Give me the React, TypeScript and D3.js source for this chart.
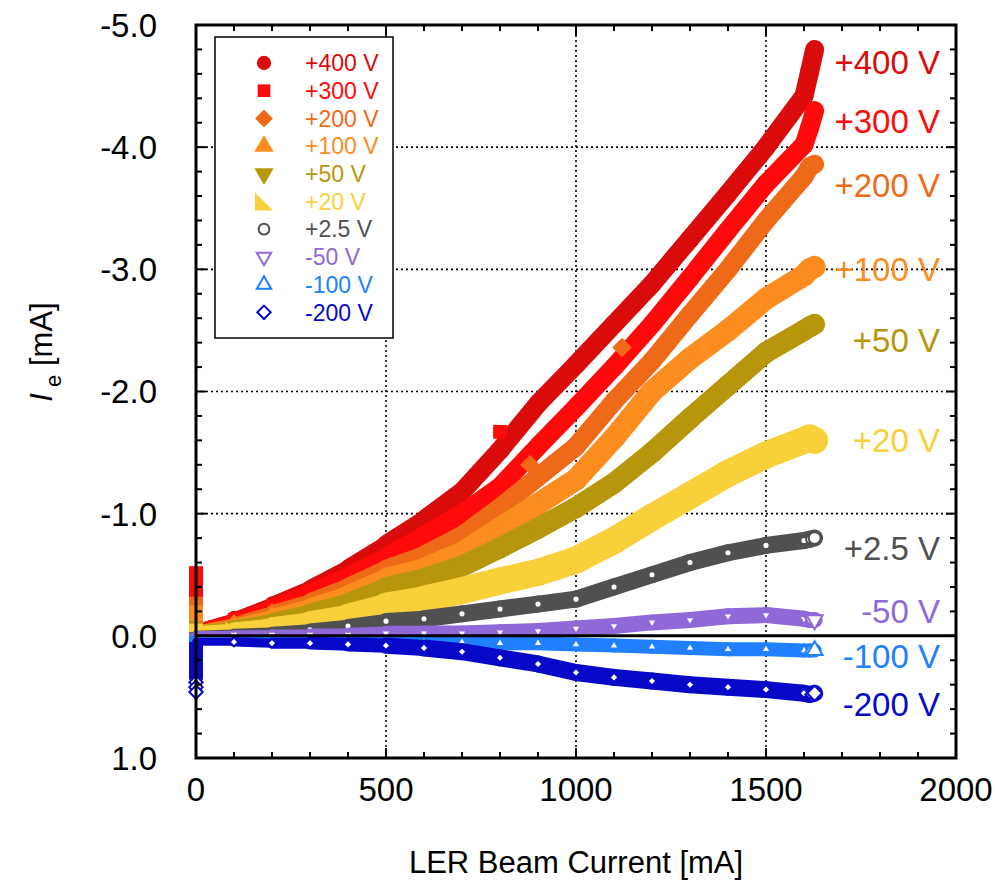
import React from "react";
import * as d3 from "d3";

// ---------- data ----------
const beamCurrent = [0, 100, 200, 300, 400, 500, 600, 700, 800, 900, 1000, 1100, 1200, 1300, 1400, 1500, 1600];
const tailCurrent = [1615, 1628];

const v400 = [-0.06, -0.15, -0.27, -0.40, -0.56, -0.75, -0.95, -1.18, -1.52, -1.90, -2.22, -2.55, -2.88, -3.25, -3.62, -4.00, -4.42];
const v300 = [-0.06, -0.14, -0.25, -0.37, -0.50, -0.65, -0.82, -1.00, -1.22, -1.55, -1.87, -2.20, -2.55, -2.93, -3.32, -3.70, -4.02];
const v200 = [-0.05, -0.11, -0.20, -0.29, -0.41, -0.55, -0.66, -0.82, -1.05, -1.30, -1.55, -1.92, -2.25, -2.63, -3.00, -3.40, -3.76];
const v100 = [-0.04, -0.09, -0.16, -0.24, -0.34, -0.47, -0.55, -0.68, -0.88, -1.08, -1.28, -1.62, -2.00, -2.27, -2.50, -2.76, -2.95];
const v50 = [-0.04, -0.08, -0.13, -0.20, -0.28, -0.40, -0.47, -0.57, -0.72, -0.88, -1.05, -1.25, -1.50, -1.78, -2.05, -2.32, -2.50];
const v20 = [-0.03, -0.05, -0.08, -0.12, -0.17, -0.25, -0.30, -0.37, -0.45, -0.52, -0.62, -0.78, -0.97, -1.15, -1.33, -1.48, -1.60];
const v2p5 = [-0.01, -0.02, -0.03, -0.05, -0.08, -0.12, -0.14, -0.18, -0.22, -0.26, -0.30, -0.40, -0.50, -0.60, -0.68, -0.74, -0.78];
const vm50 = [-0.01, -0.01, -0.01, -0.01, -0.01, -0.02, -0.02, -0.02, -0.03, -0.04, -0.06, -0.08, -0.11, -0.13, -0.16, -0.17, -0.14];
const vm100 = [0.03, 0.04, 0.04, 0.04, 0.04, 0.05, 0.05, 0.05, 0.06, 0.06, 0.07, 0.08, 0.09, 0.10, 0.11, 0.11, 0.12];
const vm200 = [0.05, 0.05, 0.06, 0.06, 0.07, 0.08, 0.10, 0.13, 0.18, 0.23, 0.30, 0.34, 0.37, 0.40, 0.42, 0.44, 0.47];

const t400 = [-4.62, -4.8];
const t300 = [-4.16, -4.3];
const t200 = [-3.84, -3.86];
const t100 = [-3.0, -3.02];
const t50 = [-2.53, -2.55];
const t20 = [-1.62, -1.6];
const t2p5 = [-0.79, -0.8];
const tm50 = [-0.13, -0.13];
const tm100 = [0.12, 0.12];
const tm200 = [0.48, 0.47];

// values at I = 0 (vertical spread at injection start): [top, bottom]
const spike400 = [-0.12, -0.05];
const spike300 = [-0.57, -0.08];
const spike200 = [-0.32, -0.1];
const spike100 = [-0.25, -0.05];
const spike50 = [-0.12, 0.0];
const spike20 = [-0.1, 0.0];
const spike2p5 = [-0.03, 0.0];
const spikem50 = [-0.02, 0.02];
const spikem100 = [0.0, 0.22];
const spikem200 = [0.05, 0.36];
const spikeDiamondsM200 = [0.38, 0.42, 0.46];

// isolated points
const outlierSeries = ["+300 V", "+200 V", "+200 V"];
const outlierCurrent = [800, 879, 1121];
const outlierValue = [-1.67, -1.40, -2.36];

const seriesNames = ["+400 V", "+300 V", "+200 V", "+100 V", "+50 V", "+20 V", "+2.5 V", "-50 V", "-100 V", "-200 V"];
const seriesValues = [v400, v300, v200, v100, v50, v20, v2p5, vm50, vm100, vm200];
const seriesTails = [t400, t300, t200, t100, t50, t20, t2p5, tm50, tm100, tm200];
const seriesSpikes = [spike400, spike300, spike200, spike100, spike50, spike20, spike2p5, spikem50, spikem100, spikem200];

const xTicksMajor = [0, 500, 1000, 1500, 2000];
const yTicksMajor = [-5, -4, -3, -2, -1, 0, 1];
const yTickLabels = ["-5.0", "-4.0", "-3.0", "-2.0", "-1.0", "0.0", "1.0"];

// right-side labels: value positions
const rightLabelValue = [-4.7, -4.21, -3.69, -3.0, -2.42, -1.6, -0.72, -0.2, 0.17, 0.56];

// ---------- styles ----------
const colors = ["#d90b0b", "#ff0a0a", "#ee6a18", "#fb8c1e", "#b8960b", "#f8d03a", "#505050", "#9068d8", "#2080ff", "#0808c8"];
const bandWidth = [19, 19, 19, 22, 21, 27, 17, 16, 14, 17];
const shapes = ["circle", "square", "diamond", "triUp", "triDown", "rightTri", "oCircle", "oTriDown", "oTriUp", "oDiamond"];

const FONT = "'Liberation Sans', Arial, sans-serif";

function markerPath(shape: string, size: number): string {
  const s = size;
  switch (shape) {
    case "circle":
    case "oCircle":
      return d3.symbol(d3.symbolCircle, s)()!;
    case "square":
      return d3.symbol(d3.symbolSquare, s)()!;
    case "diamond":
    case "oDiamond": {
      const r = Math.sqrt(s / 2);
      return `M0,${-r}L${r},0L0,${r}L${-r},0Z`;
    }
    case "triUp":
    case "oTriUp":
    case "triDown":
    case "oTriDown":
      return d3.symbol(d3.symbolTriangle, s)()!;
    case "rightTri": {
      const h = Math.sqrt(s * 2) / 2;
      return `M${-h},${-h}L${h},${h}L${-h},${h}Z`;
    }
  }
  return "";
}
const isOpen = (shape: string) => shape.startsWith("o");
const rot = (shape: string) => (shape === "triDown" || shape === "oTriDown" ? 180 : 0);

export default function App() {
  const W = 995, H = 885;
  const x = d3.scaleLinear().domain([0, 2000]).range([196, 956]);
  const y = d3.scaleLinear().domain([-5, 1]).range([25, 758]);
  const [x0, x1] = x.range();
  const [y0, y1] = y.range();

  const xMinor = d3.range(0, 2001, 100);
  const yMinor = d3.range(-5, 1.0001, 0.2);

  const widthAt = (base: number, I: number) => base * Math.min(1, 0.4 + (0.6 * I) / 600);

  const bands = seriesNames.map((name, si) => {
    const pts: [number, number][] = beamCurrent.map((I, i) => [I, seriesValues[si][i]]);
    tailCurrent.forEach((I, i) => pts.push([I, seriesTails[si][i]]));
    const segs = d3.pairs(pts).map(([a, b], k) => (
      <line
        key={k}
        x1={x(a[0])}
        y1={y(a[1])}
        x2={x(b[0])}
        y2={y(b[1])}
        stroke={colors[si]}
        strokeWidth={widthAt(bandWidth[si], (a[0] + b[0]) / 2)}
        strokeLinecap="round"
      />
    ));
    const open = isOpen(shapes[si]);
    const marks = open
      ? pts.slice(1).map((p, k) => (
          <path
            key={"m" + k}
            d={markerPath(shapes[si], k === pts.length - 2 ? 110 : 40)}
            transform={`translate(${x(p[0])},${y(p[1])}) rotate(${rot(shapes[si])})`}
            fill="#fff"
            stroke={colors[si]}
            strokeWidth={2}
          />
        ))
      : pts.slice(1).map((p, k) => (
          <path
            key={"m" + k}
            d={markerPath(shapes[si], 140)}
            transform={`translate(${x(p[0])},${y(p[1])}) rotate(${rot(shapes[si])})`}
            fill={colors[si]}
          />
        ));
    const sp = seriesSpikes[si];
    const spike = (
      <rect
        x={x(0) - 7}
        y={y(sp[0])}
        width={14}
        height={Math.max(2, y(sp[1]) - y(sp[0]))}
        fill={colors[si]}
      />
    );
    return (
      <g key={name}>
        {segs}
        {marks}
        {spike}
      </g>
    );
  });

  const outliers = outlierSeries.map((name, i) => {
    const si = seriesNames.indexOf(name);
    return (
      <path
        key={i}
        d={markerPath(shapes[si], 190)}
        transform={`translate(${x(outlierCurrent[i])},${y(outlierValue[i])})`}
        fill={colors[si]}
      />
    );
  });

  const spikeDiamonds = spikeDiamondsM200.map((v, i) => (
    <path
      key={"sd" + i}
      d={markerPath("oDiamond", 90)}
      transform={`translate(${x(0)},${y(v)})`}
      fill="#fff"
      stroke={colors[9]}
      strokeWidth={2}
    />
  ));

  const legendX = 215, legendY = 37, legendW = 178, legendH = 301;
  const legendRow0 = 63, legendStep = 27.7;

  return (
    <svg width={W} height={H} style={{ position: "absolute", left: 0, top: 0, background: "#fff" }} fontFamily={FONT}>
      <rect x={0} y={0} width={W} height={H} fill="#fff" />
      {/* grid */}
      <g stroke="#000" strokeWidth={1.6} strokeDasharray="2,3">
        {[500, 1000, 1500].map((v) => (
          <line key={"gx" + v} x1={x(v)} x2={x(v)} y1={y0} y2={y1} />
        ))}
        {[-4, -3, -2, -1].map((v) => (
          <line key={"gy" + v} x1={x0} x2={x1} y1={y(v)} y2={y(v)} />
        ))}
      </g>

      {/* data */}
      {bands}
      {outliers}
      {spikeDiamonds}

      {/* zero line */}
      <line x1={x0} x2={x1} y1={y(0)} y2={y(0)} stroke="#000" strokeWidth={3} />

      {/* ticks */}
      <g stroke="#000" strokeWidth={2}>
        {xMinor.map((v) => {
          const L = v % 500 === 0 ? 10 : 6;
          return (
            <g key={"tx" + v}>
              <line x1={x(v)} x2={x(v)} y1={y1} y2={y1 - L} />
              <line x1={x(v)} x2={x(v)} y1={y0} y2={y0 + L} />
            </g>
          );
        })}
        {yMinor.map((v, i) => {
          const L = i % 5 === 0 ? 10 : 6;
          return (
            <g key={"ty" + i}>
              <line x1={x0} x2={x0 + L} y1={y(v)} y2={y(v)} />
              <line x1={x1} x2={x1 - L} y1={y(v)} y2={y(v)} />
            </g>
          );
        })}
      </g>

      {/* frame */}
      <rect x={x0} y={y0} width={x1 - x0} height={y1 - y0} fill="none" stroke="#000" strokeWidth={3} />

      {/* tick labels */}
      <g fontSize={33} fill="#000">
        {yTicksMajor.map((v, i) => (
          <text key={"yl" + v} x={157} y={y(v)} dy="0.36em" textAnchor="end">
            {yTickLabels[i]}
          </text>
        ))}
        {xTicksMajor.map((v) => (
          <text key={"xl" + v} x={x(v)} y={801} textAnchor="middle">
            {String(v)}
          </text>
        ))}
      </g>

      {/* axis titles */}
      <text x={576} y={873} textAnchor="middle" fontSize={31} fill="#000">
        LER Beam Current [mA]
      </text>
      <text transform="translate(52,352) rotate(-90)" textAnchor="middle" fontSize={31} fill="#000">
        <tspan fontStyle="italic">I</tspan>
        <tspan fontSize={22} dy={9}> e</tspan>
        <tspan dy={-9}> [mA]</tspan>
      </text>

      {/* right labels */}
      <g fontSize={33}>
        {seriesNames.map((n, i) => (
          <text key={"rl" + n} x={940} y={y(rightLabelValue[i])} dy="0.36em" textAnchor="end" fill={colors[i]}>
            {n}
          </text>
        ))}
      </g>

      {/* legend */}
      <rect x={legendX} y={legendY} width={legendW} height={legendH} fill="#fff" stroke="#000" strokeWidth={1.5} />
      {seriesNames.map((n, i) => {
        const cy = legendRow0 + i * legendStep;
        const open = isOpen(shapes[i]);
        return (
          <g key={"lg" + n}>
            <path
              d={markerPath(shapes[i], open ? 90 : 160)}
              transform={`translate(264,${cy}) rotate(${rot(shapes[i])})`}
              fill={open ? "#fff" : colors[i]}
              stroke={open ? colors[i] : "none"}
              strokeWidth={2}
            />
            <text x={305} y={cy} dy="0.36em" fontSize={23} fill={colors[i]}>
              {n}
            </text>
          </g>
        );
      })}
    </svg>
  );
}
